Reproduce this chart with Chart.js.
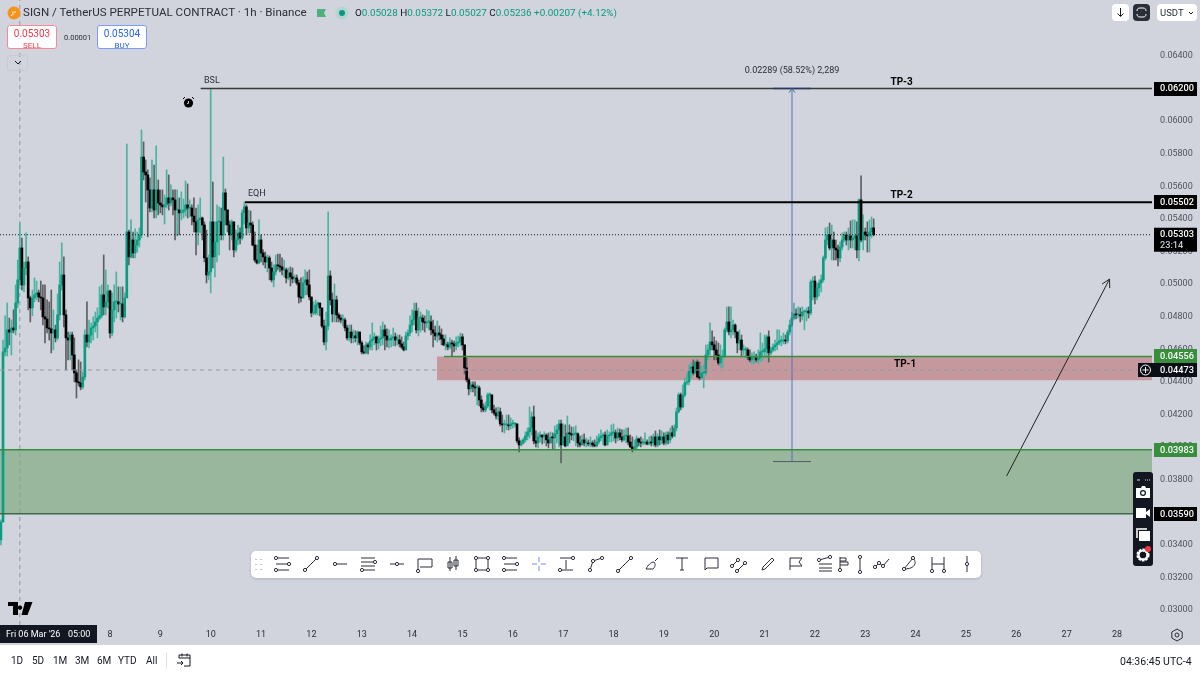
<!DOCTYPE html>
<html>
<head>
<meta charset="utf-8">
<title>SIGN / TetherUS 1h</title>
<script src="https://cdn.jsdelivr.net/npm/chart.js@4/dist/chart.umd.min.js"></script>
<style>
  html, body { margin: 0; padding: 0; background: #fff; }
  body { width: 1200px; height: 675px; position: relative; overflow: hidden; font-family: Roboto, "Noto Sans", sans-serif; color: #131722; }
  #wrap { position: absolute; left: 0; top: 0; width: 1200px; height: 645px; background: #d1d4dc; }
  .ui { position: absolute; white-space: nowrap; }
  .btn { position: absolute; background: #fff; border-radius: 4px; }
  #toolbar { position: absolute; left: 251px; top: 551px; width: 730px; height: 27px; background: #fff; border-radius: 5px; box-shadow: 0 1px 3px rgba(0,0,0,.18); }
  #toolbar svg { position: absolute; top: 3px; width: 20px; height: 20px; fill: none; stroke: #2a2e39; stroke-width: 1; }
  #snap { position: absolute; left: 1133px; top: 472px; width: 20px; height: 94px; background: #131722; border-radius: 3px; }
  #bottom span { position: absolute; top: 655px; font-size: 10px; color: #131722; }
</style>
</head>
<body>
<div id="wrap"><canvas id="chart" width="1200" height="645"></canvas></div>

<!-- header -->
<svg class="ui" style="left:7px;top:6px" width="14" height="14"><circle cx="7" cy="7" r="6.5" fill="#f7931a"/><path d="M4 9.5c2 0 2-1 2-4M8 5v2" stroke="#fff" fill="none"/></svg>
<div class="ui" style="left:23px;top:5px;font-size:11.6px;color:#2a2e39">SIGN / TetherUS PERPETUAL CONTRACT · 1h · Binance</div>
<svg class="ui" style="left:317px;top:8px" width="10" height="10"><path d="M0 1h9l-2 4 2 4H0z" fill="#4caf7d"/></svg>
<svg class="ui" style="left:335px;top:6px" width="14" height="14"><circle cx="7" cy="7" r="6.5" fill="#b4d4cf"/><circle cx="7" cy="7" r="3" fill="#089981"/></svg>
<div class="ui" style="left:355px;top:7px;font-size:9.9px;color:#089981"><span style="color:#131722">O</span>0.05028 <span style="color:#131722">H</span>0.05372 <span style="color:#131722">L</span>0.05027 <span style="color:#131722">C</span>0.05236 +0.00207 (+4.12%)</div>

<div class="ui" style="left:7px;top:25px;width:50px;height:24px;background:#fff;border:1px solid #ef8d97;border-radius:3px;text-align:center;color:#f23645;font-size:10px;line-height:11px;padding-top:2px;box-sizing:border-box">0.05303<br><span style="font-size:8px">SELL</span></div>
<div class="ui" style="left:64px;top:33px;font-size:7.5px;color:#2a2e39">0.00001</div>
<div class="ui" style="left:97px;top:25px;width:50px;height:24px;background:#fff;border:1px solid #7d9cf5;border-radius:3px;text-align:center;color:#2962ff;font-size:10px;line-height:11px;padding-top:2px;box-sizing:border-box">0.05304<br><span style="font-size:8px">BUY</span></div>
<div class="ui" style="left:7px;top:55px;width:21px;height:16px;border:1px solid #c8cbd3;border-radius:3px;box-sizing:border-box"></div>
<svg class="ui" style="left:14px;top:60px" width="8" height="6"><path d="M1 1l3 3 3-3" stroke="#131722" fill="none"/></svg>

<!-- top right buttons -->
<div class="btn" style="left:1112px;top:4px;width:17px;height:17px"></div>
<svg class="ui" style="left:1116px;top:8px" width="9" height="10"><path d="M4.5 0v8M1.5 5.5l3 3 3-3" stroke="#131722" fill="none"/></svg>
<div class="ui" style="left:1133px;top:4px;width:17px;height:17px;background:#2a2e39;border-radius:4px"></div>
<svg class="ui" style="left:1136px;top:7px" width="11" height="11"><path d="M1 4c0-2 1-3 3-3h3c2 0 3 1 3 3M1 7c0 2 1 3 3 3h3c2 0 3-1 3-3" stroke="#fff" fill="none"/></svg>
<div class="btn" style="left:1157px;top:4px;width:40px;height:17px"></div>
<div class="ui" style="left:1160px;top:7px;font-size:9.5px;color:#2a2e39">USDT</div>
<svg class="ui" style="left:1188px;top:11px" width="6" height="4"><path d="M1 1l2 2 2-2" stroke="#131722" fill="none"/></svg>

<!-- alarm + logo -->
<svg class="ui" style="left:182px;top:96px" width="13" height="13"><circle cx="6.5" cy="7" r="4.6" fill="#000"/><path d="M1 3l2-2M12 3l-2-2" stroke="#000"/><path d="M6.5 5v2.4H5" stroke="#fff" fill="none" stroke-width=".8"/></svg>
<svg class="ui" style="left:8px;top:602px" width="25" height="13"><path d="M0 0h10v13H5V4H0zM12 3.5a2.2 2.2 0 1 0 .01 0zM17 0h7.5l-5 13h-6z" fill="#000"/></svg>

<!-- drawing toolbar -->
<div id="toolbar"></div>

<!-- screenshot panel -->
<div id="snap"></div>
<svg class="ui" style="left:1135px;top:474px" width="16" height="90">
  <path d="M2 6h3M10 6h1M12 6h1M14 6h1" stroke="#ddd"/>
  <path d="M1 14h5l1-2h3l1 2h4v10H1z" fill="#fff"/><circle cx="8" cy="19" r="3" fill="#131722"/><circle cx="8" cy="19" r="1.8" fill="#fff"/>
  <path d="M1 34h10v10H1zM11 38l4-3v8l-4-3z" fill="#fff"/>
  <path d="M1 54h11v2H3v8H1z" fill="#ccc"/><path d="M4 57h11v10H4z" fill="#fff"/>
  <circle cx="8" cy="81" r="5" fill="none" stroke="#fff" stroke-width="3.2" stroke-dasharray="2.2 1"/><circle cx="8" cy="81" r="4.6" fill="none" stroke="#fff" stroke-width="2"/>
  <circle cx="13" cy="75" r="3" fill="#f23645"/>
</svg>

<!-- time axis extras and bottom strip -->
<svg class="ui" style="left:1170px;top:628px" width="14" height="14"><path d="M7 1l5.2 3v6L7 13l-5.2-3V4z" fill="none" stroke="#2a2e39"/><circle cx="7" cy="7" r="2" fill="none" stroke="#2a2e39"/></svg>
<div id="bottom">
  <span style="left:11px">1D</span><span style="left:32px">5D</span><span style="left:53px">1M</span><span style="left:75px">3M</span><span style="left:97px">6M</span><span style="left:118px">YTD</span><span style="left:146px">All</span>
  <span style="left:1120px;font-size:10.5px">04:36:45 UTC-4</span>
</div>
<div class="ui" style="left:166px;top:652px;width:1px;height:17px;background:#e0e3eb"></div>
<svg class="ui" style="left:176px;top:652px" width="16" height="16"><path d="M3 6V3h11v11H8M3 6h11M6 1.5v3M11 1.5v3M1 11h6M5 9l2 2-2 2" fill="none" stroke="#131722"/></svg>

<script>
// Candle data. Prices in units of 0.00001, one row = 12 hourly bars
const PIP = 0.00001;
const firstBarDay = 5 + 20 / 24; // 5 Mar 20:00

const opens = [
  3430,3540,4584,4608,4719,4706,4731,4719,4884,5026,5222,4995,
  5099,5136,4915,4854,4915,4934,4946,4921,4915,4799,4786,4731,
  4725,4700,4719,4670,4811,4995,5056,4811,4670,4657,4688,4565,
  4455,4400,4394,4369,4430,4688,4645,4688,4731,4743,4768,4792,
  4805,4934,4860,4891,4958,4700,4842,4891,4891,4878,4878,4799,
  4915,5320,5167,5271,5191,5240,5271,5302,5780,5688,5670,5578,
  5467,5578,5455,5578,5498,5486,5474,5486,5529,5498,5529,5517,
  5455,5455,5437,5443,5455,5486,5467,5467,5418,5382,5320,5394,
  5406,5363,5161,5056,5075,5382,5167,5259,5382,5382,5302,5560,
  5455,5363,5302,5382,5210,5271,5314,5283,5437,5474,5345,5375,
  5363,5240,5148,5130,5271,5191,5167,5136,5161,5099,5026,5075,
  5118,5112,5105,5087,5087,5038,5069,5044,5032,5038,5007,4921,
  4915,5007,5026,4995,4921,4823,4823,4872,4884,4854,4743,4645,
  4743,5050,4903,4817,4903,4811,4792,4780,4780,4731,4670,4706,
  4670,4682,4670,4706,4639,4584,4578,4627,4614,4651,4663,4676,
  4639,4663,4670,4719,4682,4657,4657,4670,4676,4657,4657,4633,
  4614,4596,4682,4700,4749,4780,4835,4719,4792,4792,4768,4762,
  4768,4768,4719,4700,4682,4700,4688,4663,4627,4627,4614,4639,
  4633,4621,4639,4645,4676,4627,4486,4412,4357,4381,4369,4363,
  4363,4289,4240,4228,4252,4320,4320,4228,4209,4191,4216,4142,
  4136,4136,4136,4130,4142,4142,4142,4038,4013,4025,4044,4068,
  4093,4117,4185,4038,4025,4062,4074,4062,4074,4044,4025,4062,
  4056,4081,4105,4142,4013,4062,4007,4087,4081,4074,4081,4081,
  4025,4013,4044,4025,4025,4019,4025,4013,4007,4031,4056,4068,
  4074,4013,4068,4074,4087,4087,4056,4087,4062,4044,4068,4068,
  4031,4001,3988,4001,4050,4031,4025,4025,4031,4019,4031,4025,
  4062,4013,4062,4044,4062,4025,4074,4044,4087,4068,4117,4216,
  4320,4246,4320,4394,4400,4467,4492,4455,4522,4430,4424,4455,
  4455,4565,4596,4645,4627,4596,4565,4516,4553,4553,4719,4768,
  4707,4719,4749,4706,4639,4657,4596,4596,4596,4553,4535,4547,
  4547,4535,4547,4584,4584,4602,4676,4578,4596,4614,4627,4639,
  4651,4651,4657,4651,4706,4749,4792,4817,4811,4811,4805,4829,
  4829,4835,4823,5013,5019,4921,4977,5007,5026,5161,5271,5302,
  5222,5271,5222,5210,5161,5228,5271,5302,5271,5296,5271,5283,
  5296,5210,5517,5271,5320,5302,5296,5320,5345
];
const highs = [
  3553,4657,4805,4884,4792,4780,4842,4995,5148,5375,5283,5136,
  5314,5167,4927,4964,5038,5019,4964,5019,4995,4995,4903,4891,
  4964,4842,4749,4940,5136,5253,5167,4842,4706,4706,4706,4670,
  4473,4535,4522,4461,4719,4891,4780,4762,4799,4829,4854,4983,
  4995,5179,5087,4995,4964,4946,4995,5075,4983,4983,4983,4946,
  5860,5332,5394,5320,5339,5320,5345,5946,5873,5762,5701,5652,
  5762,5731,5848,5639,5578,5578,5547,5701,5670,5609,5578,5578,
  5578,5529,5566,5523,5633,5615,5517,5486,5529,5467,5486,5529,
  5412,5382,5332,5179,6198,5627,5382,5486,5474,5467,5780,5584,
  5455,5388,5394,5382,5332,5363,5345,5455,5504,5486,5455,5449,
  5382,5320,5240,5394,5302,5210,5197,5179,5173,5136,5118,5179,
  5185,5185,5161,5148,5099,5099,5105,5099,5056,5056,5026,5038,
  5044,5087,5075,5087,4921,4891,4903,4891,4884,4829,4780,4829,
  5443,5081,4946,5001,4927,4823,4811,4811,4792,4749,4749,4749,
  4719,4713,4713,4706,4651,4621,4645,4639,4688,4762,4700,4682,
  4682,4743,4768,4749,4725,4719,4688,4731,4700,4688,4688,4676,
  4645,4706,4719,4805,4842,4884,4884,4854,4829,4811,4805,4842,
  4835,4805,4780,4743,4774,4743,4725,4688,4688,4645,4670,4657,
  4651,4676,4682,4700,4694,4627,4547,4424,4400,4400,4400,4381,
  4375,4314,4265,4277,4332,4332,4320,4258,4240,4246,4240,4197,
  4166,4197,4197,4179,4166,4148,4142,4056,4044,4056,4093,4117,
  4246,4216,4252,4099,4087,4093,4074,4093,4081,4087,4093,4087,
  4130,4136,4166,4166,4142,4136,4191,4136,4123,4123,4130,4087,
  4068,4074,4081,4056,4044,4062,4038,4044,4068,4081,4105,4087,
  4093,4105,4093,4136,4142,4105,4117,4111,4105,4105,4117,4117,
  4074,4062,4044,4068,4056,4062,4050,4087,4044,4062,4068,4081,
  4099,4081,4105,4099,4087,4093,4093,4117,4130,4136,4240,4332,
  4332,4381,4424,4449,4504,4522,4535,4529,4535,4522,4498,4504,
  4627,4627,4762,4713,4676,4651,4639,4627,4596,4731,4860,4860,
  4860,4780,4756,4706,4719,4688,4627,4614,4608,4596,4578,4584,
  4571,4596,4700,4639,4688,4688,4713,4614,4633,4657,4719,4719,
  4682,4700,4688,4719,4780,4829,4884,4848,4860,4854,4860,4842,
  4854,4860,5026,5044,5050,5007,5026,5056,5173,5345,5351,5375,
  5363,5320,5271,5240,5259,5314,5320,5320,5345,5388,5394,5394,
  5382,5523,5664,5425,5345,5382,5394,5412,5400
];
const lows = [
  3399,3540,4559,4559,4627,4565,4700,4688,4854,4995,4964,4952,
  5056,4842,4768,4805,4891,4903,4891,4842,4749,4639,4700,4657,
  4578,4596,4645,4657,4780,4964,4737,4473,4535,4535,4473,4400,
  4301,4375,4351,4357,4412,4614,4608,4639,4657,4706,4670,4780,
  4792,4811,4811,4854,4670,4682,4768,4792,4829,4780,4768,4792,
  5007,5118,5161,5161,5161,5197,5228,5283,5639,5504,5290,5443,
  5443,5406,5406,5425,5437,5425,5369,5467,5455,5480,5425,5271,
  5296,5302,5394,5406,5418,5406,5412,5363,5320,5179,5240,5314,
  5271,5136,5007,5026,4946,5099,5044,5136,5179,5271,5271,5363,
  5320,5210,5271,5167,5197,5240,5246,5271,5369,5302,5314,5314,
  5234,5136,5124,5124,5136,5118,5099,5075,5026,5013,4983,5056,
  5087,5075,5056,5044,5007,5026,4989,5007,5013,4995,4884,4891,
  4915,4934,4934,4903,4799,4811,4811,4811,4805,4731,4627,4596,
  4719,4872,4768,4768,4768,4768,4762,4743,4713,4657,4651,4639,
  4639,4645,4627,4627,4571,4571,4571,4571,4596,4596,4627,4596,
  4602,4621,4627,4596,4614,4608,4614,4621,4621,4627,4614,4602,
  4590,4596,4657,4682,4706,4749,4700,4682,4706,4719,4706,4731,
  4719,4688,4614,4657,4645,4657,4627,4621,4596,4596,4602,4559,
  4584,4596,4614,4621,4596,4449,4400,4320,4338,4338,4314,4258,
  4252,4216,4216,4216,4240,4228,4209,4197,4173,4166,4130,4093,
  4087,4105,4105,4111,4117,4123,4025,3970,4007,4019,4031,4044,
  4056,4074,4019,4001,3995,4031,4019,4025,4007,3995,4025,3988,
  3988,4025,4001,3903,4013,4001,4044,4025,4044,4038,4007,4001,
  4001,4013,4007,4001,4007,4001,4001,4001,4001,4019,4038,4013,
  4007,4013,4031,4031,4038,4025,4038,4044,4031,4038,4025,4013,
  3995,3970,3988,3988,4007,4001,4013,4013,4013,4013,4007,4007,
  4001,4001,4013,4019,4013,4013,4019,4025,4056,4062,4099,4209,
  4228,4240,4308,4381,4381,4424,4443,4449,4424,4412,4424,4363,
  4443,4535,4565,4596,4535,4535,4504,4486,4486,4547,4706,4688,
  4670,4688,4670,4578,4596,4553,4565,4547,4535,4522,4510,4510,
  4522,4510,4522,4529,4547,4547,4522,4565,4584,4590,4596,4627,
  4621,4633,4633,4639,4688,4737,4780,4786,4792,4768,4780,4719,
  4774,4792,4811,4903,4878,4903,4927,4952,5013,5148,5240,5210,
  5148,5148,5148,5112,5136,5210,5259,5240,5210,5222,5222,5210,
  5161,5142,5259,5210,5271,5197,5197,5283,5296
];
const closes = [
  3540,4584,4608,4719,4706,4731,4719,4884,5026,5222,4995,5099,
  5136,4915,4854,4915,4934,4946,4921,4915,4799,4786,4731,4725,
  4700,4719,4670,4811,4995,5056,4811,4670,4657,4688,4565,4455,
  4400,4394,4369,4430,4688,4645,4688,4731,4743,4768,4792,4805,
  4934,4860,4891,4958,4700,4842,4891,4891,4878,4878,4799,4915,
  5320,5167,5271,5191,5240,5271,5302,5780,5688,5670,5578,5467,
  5578,5455,5578,5498,5486,5474,5486,5529,5498,5529,5517,5455,
  5455,5437,5443,5455,5486,5467,5467,5418,5382,5320,5394,5406,
  5363,5161,5056,5075,5382,5167,5259,5382,5382,5302,5560,5455,
  5363,5302,5382,5210,5271,5314,5283,5437,5474,5345,5375,5363,
  5240,5148,5130,5271,5191,5167,5136,5161,5099,5026,5075,5118,
  5112,5105,5087,5087,5038,5069,5044,5032,5038,5007,4921,4915,
  5007,5026,4995,4921,4823,4823,4872,4884,4854,4743,4645,4743,
  5050,4903,4817,4903,4811,4792,4780,4780,4731,4670,4706,4670,
  4682,4670,4706,4639,4584,4578,4627,4614,4651,4663,4676,4639,
  4663,4670,4719,4682,4657,4657,4670,4676,4657,4657,4633,4614,
  4596,4682,4700,4749,4780,4835,4719,4792,4792,4768,4762,4768,
  4768,4719,4700,4682,4700,4688,4663,4627,4627,4614,4639,4633,
  4621,4639,4645,4676,4627,4486,4412,4357,4381,4369,4363,4363,
  4289,4240,4228,4252,4320,4320,4228,4209,4191,4216,4142,4136,
  4136,4136,4130,4142,4142,4142,4038,4013,4025,4044,4068,4093,
  4117,4185,4038,4025,4062,4074,4062,4074,4044,4025,4062,4056,
  4081,4105,4142,4013,4062,4007,4087,4081,4074,4081,4081,4025,
  4013,4044,4025,4025,4019,4025,4013,4007,4031,4056,4068,4074,
  4013,4068,4074,4087,4087,4056,4087,4062,4044,4068,4068,4031,
  4001,3988,4001,4050,4031,4025,4025,4031,4019,4031,4025,4062,
  4013,4062,4044,4062,4025,4074,4044,4087,4068,4117,4216,4320,
  4246,4320,4394,4400,4467,4492,4455,4522,4430,4424,4455,4455,
  4565,4596,4645,4627,4596,4565,4516,4553,4553,4719,4768,4707,
  4719,4749,4706,4639,4657,4596,4596,4596,4553,4535,4547,4547,
  4535,4547,4584,4584,4602,4676,4578,4596,4614,4627,4639,4651,
  4651,4657,4651,4706,4749,4792,4817,4811,4811,4805,4829,4829,
  4835,4823,5013,5019,4921,4977,5007,5026,5161,5271,5302,5222,
  5271,5222,5210,5161,5228,5271,5302,5271,5296,5271,5283,5296,
  5210,5517,5271,5320,5302,5296,5320,5345,5303
];

// Drawn levels and zones (price, start day on the time axis)
const bslPrice = 0.062,    bslStart = 9.80;
const eqhPrice = 0.05502,  eqhStart = 10.68;
const lastPrice = 0.05303;
const crossPrice = 0.04473, crossDay = 6 + 5 / 24;
const tp1Top = 0.04556, tp1Bottom = 0.0441, tp1Start = 14.494, tp1LineStart = 14.633;
const demandTop = 0.03983, demandBottom = 0.0359;
const measureDay = 21.545, measureLow = 0.03911, measureHigh = 0.062, measureLeft = 21.167, measureRight = 21.922;
const arrowDays = [25.807, 27.852];
const arrowPrices = [0.03822, 0.05031];

const noteTexts = ['BSL', 'EQH', 'TP-3', 'TP-2', 'TP-1', '0.02289 (58.52%) 2,289'];
const noteDays = [9.867, 10.74, 23.5, 23.5, 23.57, 21.545];
const notePrices = [0.06247, 0.05553, 0.06235, 0.05541, 0.04504, 0.06308];

const tagPrices = [0.062, 0.05502, 0.04556, 0.04473, 0.03983, 0.0359];
const tagColors = ['#000000', '#000000', '#388e3c', '#0b0e14', '#388e3c', '#000000'];

const dayTicks = [8, 9, 10, 11, 12, 13, 14, 15, 16, 17, 18, 19, 20, 21, 22, 23, 24, 25, 26, 27, 28];
const priceTicks = [0.03, 0.032, 0.034, 0.036, 0.038, 0.04, 0.042, 0.044, 0.046, 0.048, 0.05, 0.052, 0.054, 0.056, 0.058, 0.06, 0.062, 0.064];

const xMin = 5.815, xMax = 28.695;
const yMin = 0.029079, yMax = 0.067437;

const upColor = '#0b9c84', downColor = '#000000';
const upWick = '#4cb3a0', downWick = '#5d5f63';
const isUp = opens.map((o, i) => closes[i] >= o);

const barX = i => firstBarDay + i / 24;

function levelLine(x0, x1, price, color, width, dash) {
    return {
        type: 'line',
        data: [{ x: x0, y: price }, { x: x1, y: price }],
        borderColor: color,
        borderWidth: width,
        borderDash: dash || [],
        pointRadius: 0,
        order: 1
    };
}

function zone(x0, x1, top, bottom, color) {
    return {
        type: 'line',
        data: [{ x: x0, y: top }, { x: x1, y: top }],
        borderWidth: 0,
        borderColor: color,
        backgroundColor: color,
        fill: { value: bottom },
        pointRadius: 0,
        order: 9
    };
}

// Price tags, text notes and arrow heads sit on top of everything
const overlayPlugin = {
    id: 'overlay',
    afterDraw(chart) {
        const c = chart.ctx;
        const xs = chart.scales.x, ys = chart.scales.y;
        c.save();

        noteTexts.forEach((t, i) => {
            const bold = t.startsWith('TP');
            c.font = (bold ? 'bold ' : '') + (bold ? '10px' : '9px') + ' Roboto';
            c.fillStyle = bold ? '#000' : '#2a2e39';
            c.textAlign = i === 5 ? 'center' : 'left';
            c.textBaseline = 'middle';
            c.fillText(t, xs.getPixelForValue(noteDays[i]), ys.getPixelForValue(notePrices[i]));
        });

        // arrow head of the trend line
        const ax0 = xs.getPixelForValue(arrowDays[0]), ay0 = ys.getPixelForValue(arrowPrices[0]);
        const ax1 = xs.getPixelForValue(arrowDays[1]), ay1 = ys.getPixelForValue(arrowPrices[1]);
        const a = Math.atan2(ay1 - ay0, ax1 - ax0);
        c.strokeStyle = '#222';
        c.lineWidth = 1;
        c.beginPath();
        c.moveTo(ax1 - 9 * Math.cos(a - 0.5), ay1 - 9 * Math.sin(a - 0.5));
        c.lineTo(ax1, ay1);
        c.lineTo(ax1 - 9 * Math.cos(a + 0.5), ay1 - 9 * Math.sin(a + 0.5));
        c.stroke();

        // small arrow on top of the measure line
        const mx = xs.getPixelForValue(measureDay), my = ys.getPixelForValue(measureHigh);
        c.strokeStyle = '#4a6ab5';
        c.beginPath();
        c.moveTo(mx - 3, my + 4);
        c.lineTo(mx, my);
        c.lineTo(mx + 3, my + 4);
        c.stroke();

        // price axis tags
        c.font = '500 9.2px Roboto';
        c.textAlign = 'left';
        tagPrices.forEach((p, i) => {
            const y = ys.getPixelForValue(p);
            c.fillStyle = tagColors[i];
            c.fillRect(1154, Math.round(y) - 7, 43, 14);
            c.fillStyle = '#fff';
            c.fillText(p.toFixed(5), 1160, y + 0.5);
        });

        // last price tag with countdown
        const ly = ys.getPixelForValue(lastPrice);
        c.fillStyle = '#000';
        c.fillRect(1154, ly - 7, 43, 24);
        c.fillStyle = '#fff';
        c.fillText(lastPrice.toFixed(5), 1160, ly);
        c.fillStyle = '#c8cbd3';
        c.fillText('23:14', 1160, ly + 11);

        // plus button next to the crosshair tag
        const cy = ys.getPixelForValue(crossPrice);
        c.fillStyle = '#0b0e14';
        c.fillRect(1138, cy - 7, 16, 14);
        c.strokeStyle = '#fff';
        c.beginPath();
        c.arc(1145.5, cy, 5, 0, Math.PI * 2);
        c.moveTo(1142.5, cy);
        c.lineTo(1148.5, cy);
        c.moveTo(1145.5, cy - 3);
        c.lineTo(1145.5, cy + 3);
        c.stroke();

        // crosshair date tag
        c.fillStyle = '#131722';
        c.fillRect(0, 625, 97, 18);
        c.fillStyle = '#fff';
        c.font = '9px Roboto';
        c.fillText("Fri 06 Mar '26", 6, 635);
        c.fillText('05:00', 68, 635);
        c.restore();
    }
};

const chart = new Chart(document.getElementById('chart'), {
    type: 'bar',
    data: {
        datasets: [
            // zones
            zone(tp1Start, xMax, tp1Top, tp1Bottom, '#c5989e'),
            zone(xMin, xMax, demandTop, demandBottom, '#99b79c'),
            // wicks then bodies
            {
                data: lows.map((l, i) => ({ x: barX(i), y: [l * PIP, highs[i] * PIP] })),
                backgroundColor: isUp.map(u => u ? upWick : downWick),
                barThickness: 1,
                order: 4
            },
            {
                data: opens.map((o, i) => ({ x: barX(i), y: [o * PIP, closes[i] * PIP] })),
                backgroundColor: isUp.map(u => u ? upColor : downColor),
                barThickness: 2,
                minBarLength: 1,
                order: 3
            },
            // levels
            levelLine(bslStart, xMax, bslPrice, '#3a3a3a', 1.5),
            levelLine(eqhStart, xMax, eqhPrice, '#000000', 2),
            levelLine(tp1LineStart, xMax, tp1Top, '#388e3c', 1.5),
            levelLine(xMin, xMax, demandTop, '#388e3c', 1.5),
            levelLine(xMin, xMax, demandBottom, '#3f6a48', 1.5),
            levelLine(xMin, xMax, lastPrice, '#131722', 1, [1, 2]),
            levelLine(xMin, xMax, crossPrice, '#9598a1', 1, [4, 4]),
            // crosshair time line
            {
                type: 'line',
                data: [{ x: crossDay, y: yMin }, { x: crossDay, y: yMax }],
                borderColor: '#9598a1',
                borderWidth: 1,
                borderDash: [4, 4],
                pointRadius: 0,
                order: 5
            },
            // price range tool
            {
                type: 'line',
                data: [{ x: measureDay, y: measureLow }, { x: measureDay, y: measureHigh }],
                borderColor: '#5570b8',
                borderWidth: 1,
                pointRadius: 0,
                order: 1
            },
            levelLine(measureLeft, measureRight, measureHigh, '#6d8ef0', 2),
            levelLine(measureLeft, measureRight, measureLow, '#555a66', 1),
            // trend arrow
            {
                type: 'line',
                data: arrowDays.map((d, i) => ({ x: d, y: arrowPrices[i] })),
                borderColor: '#222222',
                borderWidth: 1,
                pointRadius: 0,
                order: 1
            }
        ]
    },
    options: {
        responsive: false,
        animation: false,
        events: [],
        datasets: { bar: { grouped: false } },
        layout: { padding: 0 },
        plugins: { legend: { display: false }, tooltip: { enabled: false } },
        scales: {
            x: {
                type: 'linear',
                min: xMin,
                max: xMax,
                offset: false,
                grid: { display: false, drawTicks: false },
                border: { display: false },
                afterFit: scale => {
                    scale.height = 20;
                    scale.paddingLeft = 0;
                    scale.paddingRight = 0;
                },
                afterBuildTicks: scale => { scale.ticks = dayTicks.map(v => ({ value: v })); },
                ticks: {
                    autoSkip: false,
                    maxRotation: 0,
                    padding: 4,
                    color: '#2a2e39',
                    font: { family: 'Roboto', size: 9 },
                    callback: v => String(v)
                }
            },
            y: {
                type: 'linear',
                position: 'right',
                min: yMin,
                max: yMax,
                grid: { display: false, drawTicks: false },
                border: { display: false },
                afterFit: scale => {
                    scale.width = 48;
                    scale.paddingTop = 0;
                    scale.paddingBottom = 0;
                },
                afterBuildTicks: scale => { scale.ticks = priceTicks.map(v => ({ value: v })); },
                ticks: {
                    autoSkip: false,
                    padding: 8,
                    color: '#50535e',
                    font: { family: 'Roboto', size: 9 },
                    callback: v => v.toFixed(5)
                }
            }
        }
    },
    plugins: [overlayPlugin]
});

// Drawing toolbar icons, one path per tool. Tools with anchor points get small handles at the path ends
const toolCenters = [282, 311, 340, 368, 397, 425, 453, 482, 510, 539, 567, 596, 625, 653, 682, 711, 739, 768, 796, 825, 845, 860, 882, 910, 938, 967];
const toolPaths = [
  'M4 4h13M4 10h13M4 16h13',
  'M4 16L16 4',
  'M5 10h12',
  'M3 4h14M3 8h14M3 12h14M4 16h13',
  'M3 10h14',
  'M3 17V5h14v8H5',
  'M7 3v14M5 8h4v6H5zM13 2v14M11 6h4v6h-4z',
  'M4 4h12v12H4z',
  'M4 4h13M4 10h13M4 16h13',
  'M10 3v5M10 12v5M3 10h5M12 10h5',
  'M3 4h13M3 16h13M9 15V6',
  'M4 16l3-9 9-3',
  'M3 17L16 4',
  'M3 15h7c2-2 3-5 1-7-3 0-6 3-8 7zM12 7l3-3',
  'M4 4h12M10 4v12M8 16h4',
  'M4 4h13v10H6l-2 2z',
  'M3 12l6-6M8 17l8-8',
  'M4 16l3-1 9-9-2-2-9 9z',
  'M4 16V4h12l-3 4 3 4H4',
  'M4 6l11-3M4 10h13M4 14h13M4 17h13',
  'M5 16V3M5 4h6v3H5M5 8h8v3H5',
  'M10 3v15',
  'M3 13l4-4 4 3 6-7',
  'M4 15L13 4c4 4 3 11-9 11z',
  'M4 3v14M4 10h12M16 3v14',
  'M10 2v16'
];
const handleSpots = [
  [[4,4],[17,10],[4,16]], [[4,16],[16,4]], [[5,10]], [[17,8],[4,16]], [[10,10]], [[3,17]], [], [[4,4],[16,4],[4,16],[16,16]],
  [[4,4],[17,10],[4,16]], [], [[16,4],[3,16]], [[4,16],[7,7],[16,4]], [[3,17],[16,4]], [], [], [],
  [[3,12],[9,6],[8,17],[16,9]], [], [], [[4,6],[15,3]], [[5,16]], [[10,3],[10,18]], [[3,13],[7,9],[11,12]], [[4,15],[13,4]], [[4,17],[16,17]], [[10,10]]
];
const toolbar = document.getElementById('toolbar');
let icons = '<svg style="left:-2px" viewBox="0 0 20 20"><path d="M7 5v1M12 5v1M7 10v1M12 10v1M7 15v1M12 15v1" stroke="#b2b5be" stroke-width="1.6"/></svg>';
toolCenters.forEach((cx, i) => {
    const stroke = i === 9 ? 'stroke="#6d8ef0"' : '';
    const handles = handleSpots[i].map(p => `<circle cx="${p[0]}" cy="${p[1]}" r="1.6" fill="#fff"/>`).join('');
    icons += `<svg style="left:${cx - 261}px" viewBox="0 0 20 20"><path d="${toolPaths[i]}" ${stroke}/>${handles}</svg>`;
});
toolbar.innerHTML = icons;
</script>
</body>
</html>
